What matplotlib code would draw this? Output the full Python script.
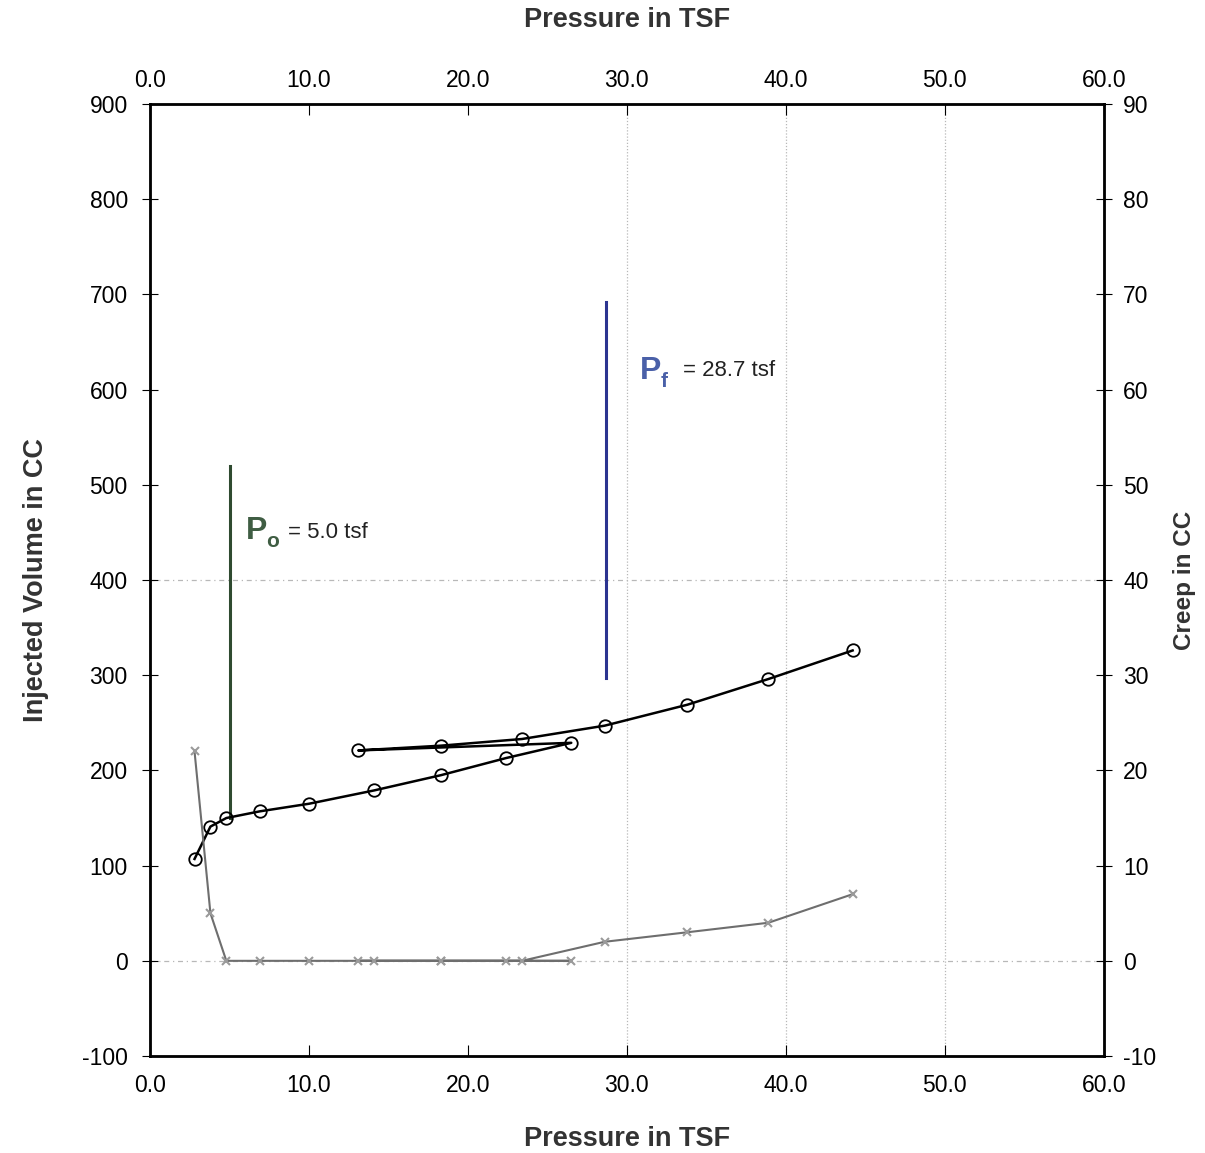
import numpy as np
import matplotlib
matplotlib.use("Agg")
from matplotlib import pyplot as plt

plt.rcParams['font.family'] = ['Liberation Sans', 'DejaVu Sans']
plt.rcParams['axes.unicode_minus'] = False

# Pressuremeter test data
pressure = [2.8, 3.8, 4.8, 6.9, 10.0, 14.1, 18.3, 22.4, 26.5,
            13.1, 18.3, 23.4, 28.6, 33.8, 38.9, 44.2]
volume = [107, 141, 150, 157, 165, 179, 195, 213, 229,
          221, 226, 233, 247, 269, 296, 326]
creep = [22, 5, 0, 0, 0, 0, 0, 0, 0,
         0, 0, 0, 2, 3, 4, 7]

p0 = 5.0
p0_range = [150, 520]
pf = 28.7
pf_range = [297, 692]

x_ticks = [0, 10, 20, 30, 40, 50, 60]
vol_ticks = [-100, 0, 100, 200, 300, 400, 500, 600, 700, 800, 900]
creep_ticks = [-10, 0, 10, 20, 30, 40, 50, 60, 70, 80, 90]

fig = plt.figure(figsize=(12.05, 11.53), dpi=100)
ax = fig.add_axes([0.1245, 0.0841, 0.7915, 0.8257])

# faint grid lines
for gx in [30, 40, 50]:
    ax.axvline(gx, color='#b8b8b8', lw=0.9, ls=(0, (1, 1.5)), zorder=0)
for gy in [0, 400]:
    ax.axhline(gy, color='#b8b8b8', lw=0.9, ls=(0, (4, 3, 1, 3)), zorder=0)

ax.plot(pressure, volume, color='black', lw=1.8, marker='o', ms=9,
        mfc='none', mec='black', mew=1.3, zorder=4)

ax.plot([p0, p0], p0_range, color='#2f4a30', lw=2.2, zorder=3)
ax.plot([pf, pf], pf_range, color='#2c3490', lw=2.2, zorder=3)

ax.text(6.0, 451, 'P', color='#3f5d43', fontsize=23, fontweight='bold', va='center')
ax.text(7.3, 440, 'o', color='#3f5d43', fontsize=15, fontweight='bold', va='center')
ax.text(8.7, 450, '= 5.0 tsf', color='#222222', fontsize=16, va='center')

ax.text(30.8, 620, 'P', color='#4a60a8', fontsize=23, fontweight='bold', va='center')
ax.text(32.15, 608, 'f', color='#4a60a8', fontsize=15, fontweight='bold', va='center')
ax.text(33.5, 620, '= 28.7 tsf', color='#222222', fontsize=16, va='center')

ax.set_xlim(0, 60)
ax.set_ylim(-100, 900)
ax.set_xticks(x_ticks)
ax.set_xticklabels([f'{v:.1f}' for v in x_ticks])
ax.set_yticks(vol_ticks)
ax.tick_params(axis='x', direction='in', length=8, labelsize=16.5, pad=13)
ax.tick_params(axis='y', direction='inout', length=12, labelsize=16.5, pad=10)
ax.set_xlabel('Pressure in TSF', fontsize=19.5, fontweight='bold', labelpad=21, color='#333333')
ax.set_ylabel('Injected Volume in CC', fontsize=19.5, fontweight='bold', labelpad=24, color='#333333')
for s in ax.spines.values():
    s.set_linewidth(2.0)

# creep on right axis
ax2 = ax.twinx()
ax2.plot(pressure, creep, color='#6e6e6e', lw=1.5, marker='x', ms=6,
         mec='#9a9a9a', mew=1.5, zorder=3)
ax2.set_ylim(-10, 90)
ax2.set_yticks(creep_ticks)
ax2.tick_params(axis='y', direction='inout', length=12, labelsize=16.5, pad=8)
ax2.set_ylabel('Creep in CC', fontsize=17.5, fontweight='bold', labelpad=12, color='#333333')

# top pressure axis
ax3 = ax.twiny()
ax3.set_xlim(0, 60)
ax3.set_xticks(x_ticks)
ax3.set_xticklabels([f'{v:.1f}' for v in x_ticks])
ax3.tick_params(axis='x', direction='in', length=8, labelsize=16.5, pad=9)
ax3.set_xlabel('Pressure in TSF', fontsize=19.5, fontweight='bold', labelpad=30, color='#333333')

fig.savefig('out.png', dpi=100)
